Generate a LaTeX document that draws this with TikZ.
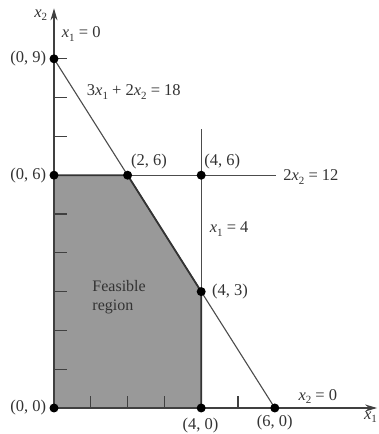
\documentclass[tikz,border=0pt]{standalone}
\usepackage{fontspec}
\setmainfont{Liberation Serif}
\usetikzlibrary{arrows.meta}
\newcommand\sv[1]{\textit{x}\raisebox{-0.45ex}{\fontsize{11}{11}\selectfont #1}}
\begin{document}
\begin{tikzpicture}[x=36.8pt,y=38.8pt,
  lbl/.style={font=\fontsize{16.5}{19}\selectfont, inner sep=0pt, text=black!80},
  dot/.style={circle, fill=black, inner sep=0pt, minimum size=9pt},
  axis/.style={line width=1.3pt, draw=black!75},
  cons/.style={line width=1.1pt, draw=black!70},
  border/.style={line width=1.8pt, draw=black!80},
  tick/.style={line width=1.1pt, draw=black!75}]
\useasboundingbox[fill=white] (-1.4674,-0.6701) rectangle (8.8315,10.5155);
% coordinates
\coordinate (O) at (0,0);
\coordinate (X1end) at (8.78,0);
\coordinate (X2end) at (0,10.3);
\coordinate (V4top) at (4,7.2);
\coordinate (H6end) at (6.03,6);
% feasible region
\fill[black!40] (0,0) -- (0,6) -- (2,6) -- (4,3) -- (4,0) -- cycle;
% ticks
\foreach \y in {1,2,3,4,5,7,8,9} \draw[tick] (0,\y) -- (0.34,\y);
\foreach \x in {1,2,3,5} \draw[tick] (\x,0) -- (\x,0.3);
% constraint lines
\draw[cons] (0,9) -- (6,0);
\draw[cons] (0,6) -- (H6end);
\draw[cons] (4,0) -- (V4top);
% border
\draw[border] (0,6) -- (2,6) -- (4,3) -- (4,0);
% axes
\draw[axis, -{Stealth[length=12pt,width=7pt]}] (O) -- (X1end);
\draw[axis, -{Stealth[length=12pt,width=7pt]}] (O) -- (X2end);
% dots
\node[dot] (p00) at (0,0) {};
\node[dot] (p09) at (0,9) {};
\node[dot] (p06) at (0,6) {};
\node[dot] (p26) at (2,6) {};
\node[dot] (p46) at (4,6) {};
\node[dot] (p43) at (4,3) {};
\node[dot] (p40) at (4,0) {};
\node[dot] (p60) at (6,0) {};
% labels
\node[lbl] (lx2) at (-0.36,10.13) {\sv{2}};
\node[lbl] (lx1) at (8.6,-0.24) {\sv{1}};
\node[lbl] (l1) at (0.74,9.64) {\sv{1} = 0};
\node[lbl, anchor=east] (l09) at (-0.21,9) {(0, 9)};
\node[lbl, anchor=east] (l06) at (-0.21,6) {(0, 6)};
\node[lbl, anchor=east] (l00) at (-0.21,0) {(0, 0)};
\node[lbl] (l2) at (2.17,8.14) {3\sv{1} + 2\sv{2} = 18};
\node[lbl] (l26) at (2.58,6.34) {(2, 6)};
\node[lbl] (l46) at (4.57,6.34) {(4, 6)};
\node[lbl] (l3) at (6.98,5.95) {2\sv{2} = 12};
\node[lbl] (l4) at (4.76,4.61) {\sv{1} = 4};
\node[lbl] (l43) at (4.78,2.99) {(4, 3)};
\node[lbl, align=left, anchor=west, font=\fontsize{16}{18.5}\selectfont] (lf) at (1.04,2.86) {Feasible\\region};
\node[lbl] (l40) at (3.98,-0.45) {(4, 0)};
\node[lbl] (l60) at (6.0,-0.38) {(6, 0)};
\node[lbl] (l5) at (7.17,0.29) {\sv{2} = 0};
\end{tikzpicture}
\end{document}
